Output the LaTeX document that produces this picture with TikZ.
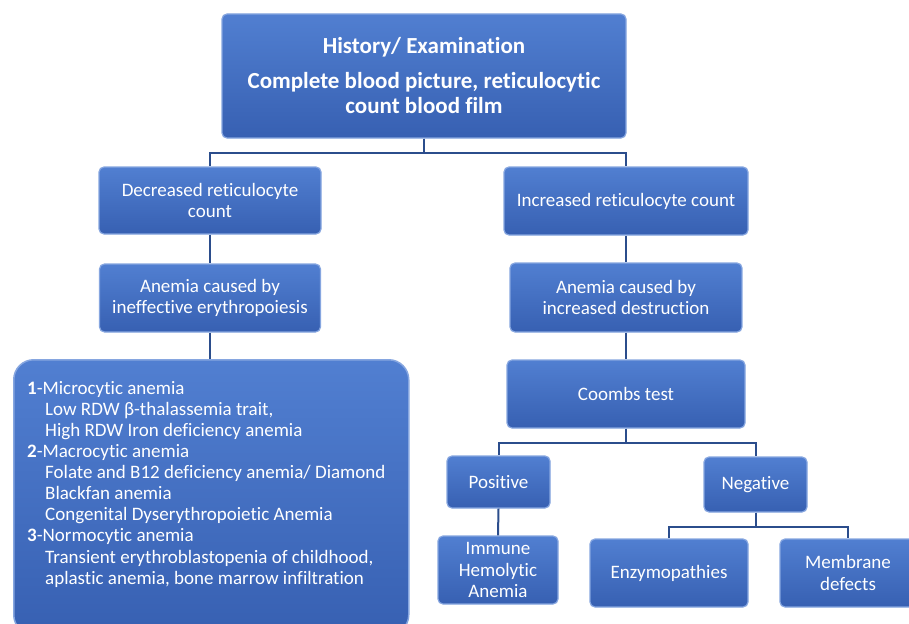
\documentclass[tikz,border=0pt]{standalone}
\usepackage{fontspec}
\setmainfont[Ligatures=NoCommon]{Carlito}
\definecolor{boxtop}{HTML}{517FD1}
\definecolor{boxbot}{HTML}{3760B2}
\definecolor{boxedge}{HTML}{86A6E0}
\definecolor{connc}{HTML}{2B4D8C}
\begin{document}
\begin{tikzpicture}[x=1pt,y=-1pt,
  box/.style={rounded corners=5pt, top color=boxtop, bottom color=boxbot, draw=boxedge, line width=1.2pt,
    text=white, align=center, inner sep=0pt, font=\fontsize{19}{21.5}\selectfont},
  bigbox/.style={rounded corners=20pt, top color=boxtop, bottom color=boxbot, draw=boxedge, line width=1.5pt, inner sep=0pt},
  conn/.style={draw=connc, line width=2pt}]
\clip (0,0) rectangle (909,623);
\fill[white] (0,0) rectangle (909,623);
% boxes
\node[box, minimum width=404, minimum height=124, font=\fontsize{23}{25}\bfseries\selectfont] (top) at (424,76)
  {History/ Examination\\[10pt]Complete blood picture, reticulocytic\\count blood film};
\node[box, minimum width=222, minimum height=67] (dec) at (210,200.5) {Decreased reticulocyte\\count};
\node[box, minimum width=244, minimum height=68] (inc) at (626,201) {Increased reticulocyte count};
\node[box, minimum width=221, minimum height=68] (ineff) at (210,298) {Anemia caused by\\ineffective erythropoiesis};
\node[box, minimum width=232, minimum height=69] (destr) at (626,297.5) {Anemia caused by\\increased destruction};
\node[bigbox, anchor=north west, minimum width=395, minimum height=275] (big) at (13,359) {};
\node[anchor=north west, text=white, align=left, inner sep=0pt, font=\fontsize{19}{21.1}\selectfont] (list) at (27,381)
  {\textbf{1}-Microcytic anemia\\
  \hspace*{18pt}Low RDW β-thalassemia trait,\\
  \hspace*{18pt}High RDW Iron deficiency anemia\\
  \textbf{2}-Macrocytic anemia\\
  \hspace*{18pt}Folate and B12 deficiency anemia/ Diamond\\
  \hspace*{18pt}Blackfan anemia\\
  \hspace*{18pt}Congenital Dyserythropoietic Anemia\\
  \textbf{3}-Normocytic anemia\\
  \hspace*{18pt}Transient erythroblastopenia of childhood,\\
  \hspace*{18pt}aplastic anemia, bone marrow infiltration};
\node[box, minimum width=238, minimum height=68] (coombs) at (626,394) {Coombs test};
\node[box, minimum width=103, minimum height=52] (pos) at (498.5,482) {Positive};
\node[box, minimum width=103, minimum height=55] (neg) at (755.5,484.5) {Negative};
\node[box, minimum width=120, minimum height=68] (imm) at (498,570) {Immune\\Hemolytic\\Anemia};
\node[box, minimum width=158, minimum height=68] (enz) at (669,573) {Enzymopathies};
\node[box, minimum width=136, minimum height=68] (mem) at (848,573) {Membrane\\defects};
% connectors
\draw[conn] (top.south) -- ++(0,14) -| (dec.north);
\draw[conn] (top.south) -- ++(0,14) -| (inc.north);
\draw[conn] (dec.south) -- (ineff.north);
\draw[conn] (ineff.south) -- (ineff.south |- big.north);
\draw[conn] (inc.south) -- (destr.north);
\draw[conn] (destr.south) -- (coombs.north);
\draw[conn] (coombs.south) -- ++(0,14) -| (pos.north);
\draw[conn] (coombs.south) -- ++(0,14) -| (neg.north);
\draw[conn] (pos.south) -- (imm.north);
\draw[conn] (neg.south) -- ++(0,14) -| (enz.north);
\draw[conn] (neg.south) -- ++(0,14) -| (mem.north);
\end{tikzpicture}
\end{document}
